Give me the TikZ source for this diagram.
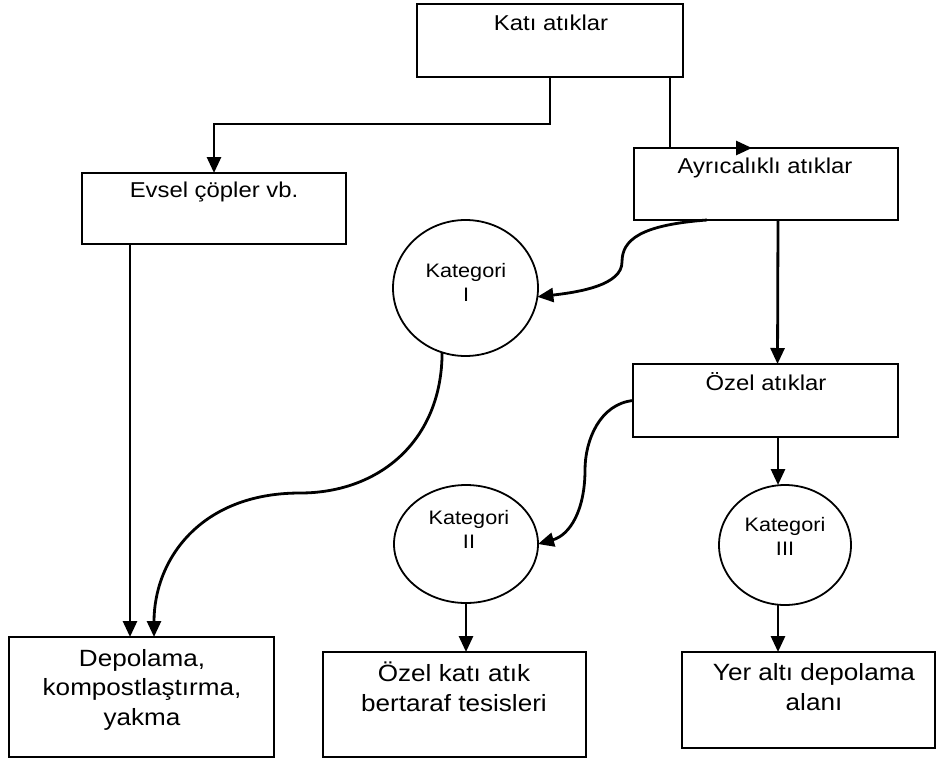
\documentclass[tikz,border=0pt]{standalone}
\usepackage{fontspec}
\setmainfont{Liberation Sans}[FakeStretch=1.11]
\usetikzlibrary{shapes.geometric,arrows.meta}
\begin{document}
\begin{tikzpicture}[x=1pt,y=-1pt,
  box/.style={draw, line width=2.4pt, inner sep=0pt, outer sep=0pt, rectangle},
  oval/.style={draw, line width=1.8pt, ellipse, inner sep=0pt, outer sep=0pt},
  conn/.style={line width=2.8pt, -{Triangle[length=16pt,width=14pt]}},
  ttop/.style={font=\fontsize{21.5}{26}\selectfont, anchor=base, inner sep=0pt},
  tcat/.style={font=\fontsize{19.5}{24}\selectfont, anchor=base, inner sep=0pt, align=center},
  tbot/.style={font=\fontsize{23.5}{29.5}\selectfont, anchor=base, inner sep=0pt, align=center}]
\useasboundingbox[fill=white] (0,0) rectangle (936,758);

% boxes
\node[box, minimum width=266pt, minimum height=73pt] (kati) at (550,40.5) {};
\node[box, minimum width=264pt, minimum height=71pt] (evsel) at (214,208.5) {};
\node[box, minimum width=264pt, minimum height=72pt] (ayr) at (766,184) {};
\node[box, minimum width=265pt, minimum height=73pt] (ozel) at (765.5,400.5) {};
\node[box, minimum width=265pt, minimum height=120pt] (depo) at (141.5,697) {};
\node[box, minimum width=263pt, minimum height=105pt] (ozkati) at (454.5,704.5) {};
\node[box, minimum width=253pt, minimum height=96pt] (yer) at (808.5,700) {};

% ellipses
\node[oval, minimum width=145pt, minimum height=136pt] (kat1) at (465.5,288) {};
\node[oval, minimum width=144pt, minimum height=118pt] (kat2) at (466,544) {};
\node[oval, minimum width=132pt, minimum height=120pt] (kat3) at (785,545) {};

% texts (base anchor = baseline of the last line)
\node[ttop] (katit) at (551,30) {Katı atıklar};
\node[ttop] (evselt) at (214,197) {Evsel çöpler vb.};
\node[ttop] (ayrt) at (765,173) {Ayrıcalıklı atıklar};
\node[ttop] (ozelt) at (766,390) {Özel atıklar};
\node[tcat] (kat1t) at (466,301) {Kategori\\I};
\node[tcat] (kat2t) at (469,548) {Kategori\\II};
\node[tcat] (kat3t) at (785,555) {Kategori\\III};
\node[tbot] (depot) at (142,725) {Depolama,\\kompostlaştırma,\\yakma};
\node[tbot] (ozkatit) at (454,711) {Özel katı atık\\bertaraf tesisleri};
\node[tbot] (yert) at (814,710) {Yer altı depolama\\alanı};

% connectors
\draw[conn] (kati.south) -- ++(0,47) -| (evsel.north);
\draw[conn] ([xshift=120pt]kati.south) |- ([xshift=-14pt]ayr.north);
\draw[conn] ([xshift=12pt]ayr.south) -- ([xshift=12pt]ozel.north);
\draw[conn] ([xshift=-59pt]ayr.south) .. controls (640,225) and (622,240) .. (622,262)
  .. controls (622,285) and (580,292) .. (kat1.-7);
\draw[conn] ([xshift=-84pt]evsel.south) -- ([xshift=-84pt]evsel.south |- depo.north);
\draw[conn] (kat1.-110) .. controls (442,440) and (380,493) .. (300,493)
  .. controls (200,493) and (154,560) .. ([xshift=12.5pt]depo.north);
\draw[conn] (ozel.west) .. controls (600,404) and (585,440) .. (585,470)
  .. controls (585,510) and (570,535) .. (kat2.east);
\draw[conn] ([xshift=12.5pt]ozel.south) -- ([xshift=12.5pt]ozel.south |- kat3.north);
\draw[conn] (kat2.south) -- (kat2.south |- ozkati.north);
\draw[conn] ([xshift=-7pt]kat3.south) -- ([xshift=-7pt]kat3.south |- yer.north);
\end{tikzpicture}
\end{document}
